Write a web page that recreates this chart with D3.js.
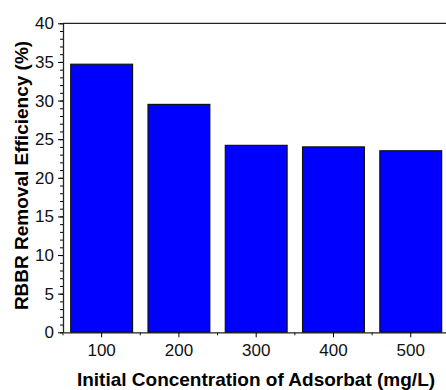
<!DOCTYPE html>
<html>
<head>
<meta charset="utf-8">
<script src="https://cdn.jsdelivr.net/npm/d3@7"></script>
<style>
  body { margin: 0; background: #fff; }
  svg { display: block; font-family: Arial, "Liberation Sans", sans-serif; }
</style>
</head>
<body>
<div id="chart"></div>
<script>
// chart data
const concentrations = ['100', '200', '300', '400', '500'];
const removalEfficiency = [34.7, 29.5, 24.2, 24.0, 23.5];
const yTicks = [0, 5, 10, 15, 20, 25, 30, 35, 40];

const width = 446;
const height = 390;
const margin = {top: 23.3, right: -3.4, bottom: 57.7, left: 63};

const svg = d3.select('#chart')
              .append('svg')
              .attr('width', width)
              .attr('height', height);

const innerW = width - margin.left - margin.right;
const innerH = height - margin.top - margin.bottom;

const g = svg.append('g')
             .attr('transform', `translate(${margin.left}, ${margin.top})`);

// scales
const xScale = d3.scaleBand()
                 .domain(concentrations)
                 .range([0, innerW])
                 .paddingInner(0.2)
                 .paddingOuter(0.1);

const yScale = d3.scaleLinear()
                 .domain([0, 40])
                 .range([innerH, 0]);

// bars
g.selectAll('rect.bar')
 .data(removalEfficiency)
 .join('rect')
 .attr('class', 'bar')
 .attr('x', (d, i) => xScale(concentrations[i]))
 .attr('y', d => yScale(d))
 .attr('width', xScale.bandwidth())
 .attr('height', d => innerH - yScale(d))
 .attr('fill', '#0000ff')
 .attr('stroke', '#111')
 .attr('stroke-width', 1.2);

// frame (top and right lines)
g.append('line')
 .attr('x1', 0).attr('x2', innerW)
 .attr('y1', 0).attr('y2', 0)
 .attr('stroke', '#222').attr('stroke-width', 1.3);
g.append('line')
 .attr('x1', innerW).attr('x2', innerW)
 .attr('y1', 0).attr('y2', innerH)
 .attr('stroke', '#222').attr('stroke-width', 1.3);

// y axis with minor ticks
const yMinor = g.append('g')
  .call(d3.axisLeft(yScale).tickValues(d3.range(0, 41, 1)).tickSize(3).tickFormat(''));
yMinor.select('.domain').remove();

const yAxis = g.append('g')
  .call(d3.axisLeft(yScale).tickValues(yTicks).tickSize(5).tickPadding(4).tickSizeOuter(0));
yAxis.selectAll('text').attr('font-size', 17).attr('fill', '#111');

// x axis: major ticks at centres, minor ticks at category boundaries
const step = xScale.step();
const boundaries = d3.range(0, concentrations.length + 1).map(i => i * step);
g.append('g')
 .attr('transform', `translate(0, ${innerH})`)
 .selectAll('line')
 .data(boundaries)
 .join('line')
 .attr('x1', d => d).attr('x2', d => d)
 .attr('y1', 0).attr('y2', 3)
 .attr('stroke', '#111');

const xAxis = g.append('g')
  .attr('transform', `translate(0, ${innerH})`)
  .call(d3.axisBottom(xScale).tickSize(5).tickPadding(7).tickSizeOuter(0));
xAxis.selectAll('text').attr('font-size', 17).attr('fill', '#111');

svg.selectAll('.domain').attr('stroke', '#222').attr('stroke-width', 1.3);

// axis titles
svg.append('text')
   .attr('x', 256)
   .attr('y', 386)
   .attr('text-anchor', 'middle')
   .attr('font-size', 19)
   .attr('font-weight', 'bold')
   .text('Initial Concentration of Adsorbat (mg/L)');

svg.append('text')
   .attr('transform', 'translate(28, 175.5) rotate(-90)')
   .attr('text-anchor', 'middle')
   .attr('font-size', 19)
   .attr('font-weight', 'bold')
   .text('RBBR Removal Efficiency (%)');
</script>
</body>
</html>
